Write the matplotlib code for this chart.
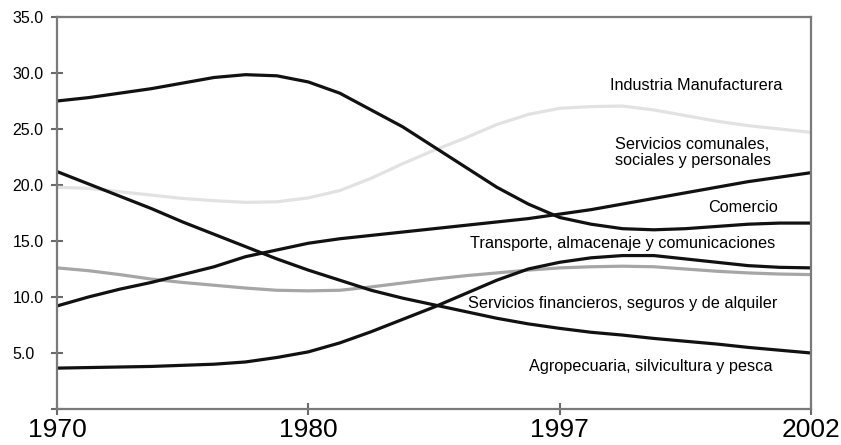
import matplotlib
matplotlib.use("Agg")
import matplotlib.pyplot as plt

plt.rcParams['font.family'] = ['Liberation Sans', 'DejaVu Sans']

# x positions: 25 evenly spaced points, year ticks sit at thirds of the axis
x = list(range(25))
tick_pos = [0, 8, 16, 24]
tick_labels = ['1970', '1980', '1997', '2002']

industria = [27.5, 27.8, 28.2, 28.6, 29.1, 29.6, 29.85, 29.75, 29.2, 28.2, 26.7, 25.2, 23.4,
             21.6, 19.8, 18.3, 17.1, 16.5, 16.1, 16.0, 16.1, 16.3, 16.5, 16.6, 16.6]
serv_comunales = [19.8, 19.7, 19.4, 19.1, 18.8, 18.6, 18.45, 18.5, 18.85, 19.5, 20.6, 21.9, 23.1,
                  24.2, 25.4, 26.3, 26.85, 27.0, 27.05, 26.7, 26.2, 25.7, 25.3, 25.0, 24.7]
comercio = [9.2, 10.0, 10.7, 11.3, 12.0, 12.7, 13.6, 14.2, 14.8, 15.2, 15.5, 15.8, 16.1,
            16.4, 16.7, 17.0, 17.4, 17.8, 18.3, 18.8, 19.3, 19.8, 20.3, 20.7, 21.1]
agro = [21.2, 20.1, 19.0, 17.9, 16.7, 15.6, 14.5, 13.4, 12.4, 11.5, 10.6, 9.9, 9.3,
        8.7, 8.1, 7.6, 7.2, 6.85, 6.6, 6.3, 6.05, 5.8, 5.5, 5.25, 5.0]
transporte = [3.65, 3.7, 3.75, 3.8, 3.9, 4.0, 4.2, 4.6, 5.1, 5.9, 6.9, 8.0, 9.1,
              10.3, 11.5, 12.5, 13.1, 13.5, 13.7, 13.7, 13.4, 13.1, 12.8, 12.65, 12.6]
financieros = [12.6, 12.35, 12.0, 11.6, 11.3, 11.05, 10.8, 10.6, 10.55, 10.6, 10.9, 11.25, 11.6,
               11.9, 12.15, 12.4, 12.6, 12.7, 12.75, 12.7, 12.5, 12.3, 12.15, 12.05, 12.0]

yticks = [0, 5, 10, 15, 20, 25, 30, 35]

fig = plt.figure(figsize=(8.41, 4.45), dpi=100)
ax = fig.add_axes([57 / 841, 1 - 409 / 445, 754 / 841, 392 / 445])

ax.plot(x, serv_comunales, color='#e2e2e2', lw=2.3)
ax.plot(x, financieros, color='#a6a6a6', lw=2.3)
for s in [industria, comercio, agro, transporte]:
    ax.plot(x, s, color='#111111', lw=2.3)

ax.set_xlim(0, 24)
ax.set_ylim(0, 35)

for sp in ax.spines.values():
    sp.set_color('#7a7a7a')
    sp.set_linewidth(1.6)

ax.set_yticks(yticks)
ax.set_yticklabels(['' if v == 0 else f'{v:.1f}' for v in yticks])
ax.tick_params(axis='y', direction='inout', length=8, width=1.5, color='#6a6a6a',
               labelsize=11.5, pad=28)
for lab in ax.get_yticklabels():
    lab.set_horizontalalignment('left')

ax.set_xticks(tick_pos)
ax.set_xticklabels(tick_labels)
ax.tick_params(axis='x', direction='inout', length=9, width=1.5, color='#6a6a6a',
               labelsize=19, pad=2)

fs = 11.7
ax.text(17.6, 28.9, 'Industria Manufacturera', fontsize=fs, va='center')
ax.text(17.76, 22.9, 'Servicios comunales,\nsociales y personales', fontsize=fs,
        va='center', linespacing=1.1)
ax.text(20.72, 18.0, 'Comercio', fontsize=fs, va='center')
ax.text(13.14, 14.8, 'Transporte, almacenaje y comunicaciones', fontsize=fs, va='center')
ax.text(13.08, 9.46, 'Servicios financieros, seguros y de alquiler', fontsize=fs, va='center')
ax.text(15.02, 3.75, 'Agropecuaria, silvicultura y pesca', fontsize=fs, va='center')

plt.savefig('out.png')
